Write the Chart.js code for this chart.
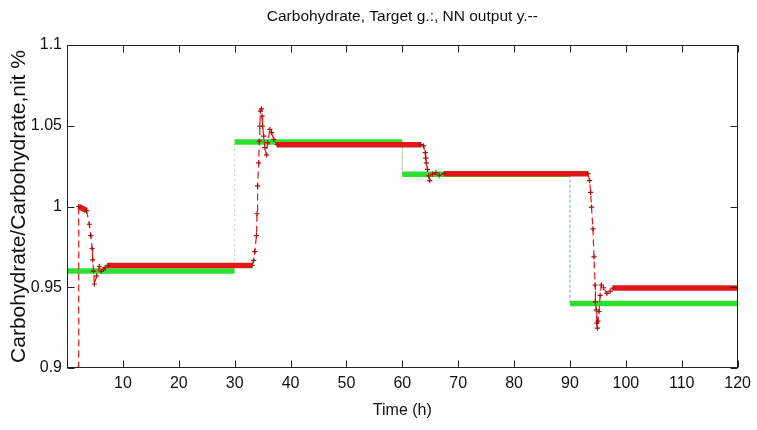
<!DOCTYPE html>
<html>
<head>
<meta charset="utf-8">
<script src="https://cdn.jsdelivr.net/npm/chart.js@4"></script>
<style>
html,body{margin:0;padding:0;background:#fff;}
#wrap{width:757px;height:430px;}
</style>
</head>
<body>
<div id="wrap"><canvas id="c" width="757" height="430"></canvas></div>
<script>
// ---- data ----
const chartTitle = "Carbohydrate, Target g.:, NN output y.--";
const xTitle = "Time (h)";
const yTitle = "Carbohydrate/Carbohydrate,nit %";

const xTickValues = [0,10,20,30,40,50,60,70,80,90,100,110,120];
const yTickValues = [0.9,0.95,1,1.05,1.1];

// Target (green, step function)
const targetTime  = [0, 30, 30, 60, 60, 90, 90, 120];
const targetValue = [0.96, 0.96, 1.04, 1.04, 1.02, 1.02, 0.94, 0.94];

// NN output (red)
const nnTime = [2, 2.1, 3.5, 4.0, 4.26, 4.5, 4.6, 4.75, 4.9, 5.3, 5.8, 6.1, 6.5, 6.8, 7.3,
  33.1, 33.4, 33.6, 33.9, 34.0, 34.1, 34.3, 34.4, 34.5, 34.6, 34.8, 34.9, 35.0, 35.2, 35.4, 35.7, 35.9, 36.3, 36.6, 37.0, 37.6,
  63.3, 63.8, 64.1, 64.2, 64.3, 64.5, 64.7, 64.9, 65.4, 66.0, 66.6, 67.5,
  93.2, 93.5, 93.7, 93.85, 94.1, 94.3, 94.5, 94.55, 94.7, 94.8, 94.9, 95.0, 95.2, 95.4, 95.6, 96.0, 96.6, 97.2, 97.7, 120];
const nnValue = [0.9, 1.0, 0.9975, 0.989, 0.982, 0.974, 0.967, 0.960, 0.952, 0.957, 0.963, 0.960, 0.961, 0.962, 0.9635,
  0.9635, 0.9667, 0.972, 0.982, 0.9955, 1.0128, 1.027, 1.0405, 1.0497, 1.059, 1.0605, 1.056, 1.0497, 1.0436, 1.0365, 1.032, 1.0395, 1.0477, 1.0457, 1.0416, 1.0383,
  1.0383, 1.0375, 1.0334, 1.030, 1.027, 1.023, 1.019, 1.016, 1.020, 1.021, 1.0194, 1.0203,
  1.0203, 1.016, 1.0088, 0.9996, 0.9862, 0.9688, 0.9514, 0.941, 0.936, 0.9278, 0.9247, 0.929, 0.935, 0.945, 0.9514, 0.9497, 0.9462, 0.9476, 0.9495, 0.9495];

// ---- build chart ----
const targetData = targetTime.map((t,i)=>({x:t,y:targetValue[i]}));
const nnData = nnTime.map((t,i)=>({x:t,y:nnValue[i]}));

const isFlat = ctx => (ctx.p1.parsed.x - ctx.p0.parsed.x) >= 1;
const isVertical = ctx => (ctx.p1.parsed.x - ctx.p0.parsed.x) === 0;

const FONT = "'Liberation Sans', Arial, sans-serif";

const framePlugin = {
  id:'frame',
  afterDatasetsDraw(chart){
    const {ctx, chartArea:a, scales:{x,y}} = chart;
    ctx.save();
    ctx.strokeStyle = '#222';
    ctx.lineWidth = 1;
    const L=Math.round(a.left)+0.5, R=Math.round(a.right)-0.5, T=Math.round(a.top)+0.5, B=Math.round(a.bottom)-0.5;
    ctx.strokeRect(L, T, R-L, B-T);
    const tl = 7;
    ctx.beginPath();
    xTickValues.forEach(v=>{
      const px = Math.round(x.getPixelForValue(v))+0.5;
      ctx.moveTo(px,B); ctx.lineTo(px,B-tl);
      ctx.moveTo(px,T); ctx.lineTo(px,T+tl);
    });
    yTickValues.forEach(v=>{
      const py = Math.round(y.getPixelForValue(v))+0.5;
      ctx.moveTo(L,py); ctx.lineTo(L+tl,py);
      ctx.moveTo(R,py); ctx.lineTo(R-tl,py);
    });
    ctx.stroke();
    // chart title centred over the plot area
    ctx.fillStyle = '#111';
    ctx.font = "15.5px " + FONT;
    ctx.textAlign = 'center';
    ctx.textBaseline = 'middle';
    ctx.fillText(chartTitle, (a.left + a.right)/2, 17);
    ctx.restore();
  }
};

new Chart(document.getElementById('c'), {
  type:'line',
  data:{
    datasets:[
      {
        label:'NN output',
        data:nnData,
        borderColor:'#e01818',
        backgroundColor:'#e01818',
        borderWidth:1.2,
        pointStyle:'cross',
        pointRadius:2.6,
        pointBorderWidth:1.2,
        pointBorderColor:'#a81212',
        segment:{
          borderWidth: ctx => isFlat(ctx) ? 5.5 : 1.2,
          borderDash: ctx => isFlat(ctx) ? [] : [7,4]
        },
        tension:0
      },
      {
        label:'Target',
        data:targetData,
        borderColor:'#2ee02e',
        borderWidth:5.5,
        pointRadius:0,
        segment:{
          borderWidth: ctx => isVertical(ctx) ? 1 : 5.5,
          borderColor: ctx => isVertical(ctx) ? '#a9cfa9' : '#2ee02e',
          borderDash: ctx => isVertical(ctx) ? [2,3] : []
        },
        tension:0
      }
    ]
  },
  options:{
    responsive:false,
    animation:false,
    devicePixelRatio:1,
    layout:{padding:{top:45,left:0,right:14,bottom:0}},
    plugins:{
      legend:{display:false},
      tooltip:{enabled:false},
      title:{display:false}
    },
    scales:{
      x:{
        type:'linear',min:0,max:120,
        afterFit(s){s.height=62;},
        afterBuildTicks(s){s.ticks = xTickValues.map(v=>({value:v}));},
        grid:{display:false,drawTicks:false},
        border:{display:false},
        ticks:{padding:6,color:'#111',font:{family:FONT,size:16},maxRotation:0,autoSkip:false,
          callback:v=> v===0 ? '' : String(v)},
        title:{display:true,text:xTitle,color:'#111',font:{family:FONT,size:16},padding:{top:0,bottom:10}}
      },
      y:{
        type:'linear',min:0.9,max:1.1,
        afterFit(s){s.width=67;},
        afterBuildTicks(s){s.ticks = yTickValues.map(v=>({value:v}));},
        grid:{display:false,drawTicks:false},
        border:{display:false},
        ticks:{padding:5,color:'#111',font:{family:FONT,size:16},autoSkip:false,
          callback:v=> String(Number(v.toFixed(2)))},
        title:{display:true,text:yTitle,color:'#111',font:{family:FONT,size:21},padding:{top:7,bottom:0}}
      }
    }
  },
  plugins:[framePlugin]
});
</script>
</body>
</html>
